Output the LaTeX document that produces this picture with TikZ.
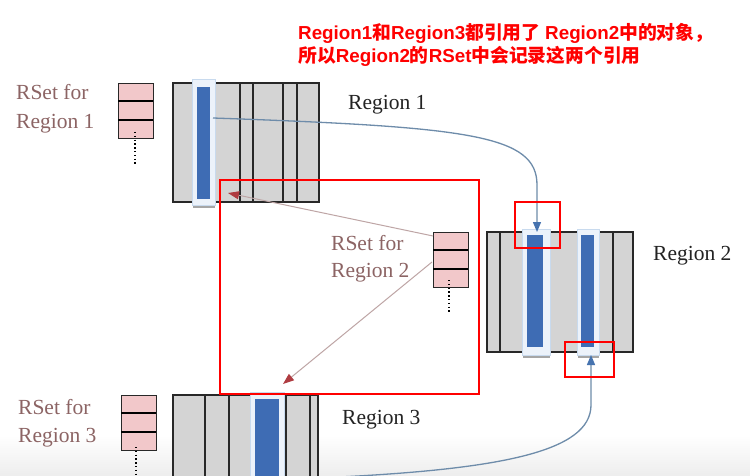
\documentclass[tikz,border=0pt]{standalone}
\usepackage{fontspec}
\setmainfont{Liberation Serif}
\newfontfamily\cjkfont{Noto Sans CJK SC}
\newfontfamily\lsansfont{Liberation Sans}
\usetikzlibrary{arrows.meta}
\definecolor{blockgrey}{RGB}{212,212,212}
\definecolor{edgecol}{RGB}{40,40,40}
\definecolor{barblue}{RGB}{62,108,180}
\definecolor{hlfill}{RGB}{236,242,250}
\definecolor{hlborder}{RGB}{200,218,238}
\definecolor{rsetpink}{RGB}{242,200,202}
\definecolor{rsettext}{RGB}{140,100,100}
\definecolor{regtext}{RGB}{35,35,35}
\definecolor{curveblue}{RGB}{110,140,170}
\definecolor{tipblue}{RGB}{70,115,175}
\definecolor{pinkline}{RGB}{190,165,165}
\definecolor{tipred}{RGB}{175,60,65}
\newcommand\ZHt[1]{{\cjkfont\bfseries #1}}
\newcommand\ENt[1]{{\lsansfont\bfseries #1}}
\begin{document}
\begin{tikzpicture}[x=1pt,y=-1pt,
  block/.style={draw=edgecol,fill=blockgrey,line width=1.4pt},
  colline/.style={draw=edgecol,line width=1.4pt},
  hlbox/.style={fill=hlfill,draw=hlborder,line width=1pt},
  hlunder/.style={draw=gray!70,line width=1.5pt},
  bar/.style={fill=barblue,draw=none,inner sep=0pt,anchor=north west},
  rsetbox/.style={fill=rsetpink,draw=edgecol,line width=1pt,inner sep=0pt,anchor=north west,minimum width=35pt,minimum height=55pt},
  rsetline/.style={draw=black,line width=1.6pt},
  dotline/.style={draw=black,line width=1.6pt,dash pattern=on 1.4pt off 2.4pt},
  rlabel/.style={text=rsettext,anchor=base west,inner sep=0pt,font=\fontsize{21.5}{21.5}\selectfont},
  reglabel/.style={text=regtext,anchor=base west,inner sep=0pt,font=\fontsize{21.5}{21.5}\selectfont},
  redbox/.style={draw=red,line width=2.5pt},
  curvearrow/.style={draw=curveblue,line width=1.3pt,-{Triangle[length=10pt,width=8pt,color=tipblue]}},
  rsarrow/.style={draw=pinkline,line width=1pt,-{Triangle[length=11pt,width=8pt,color=tipred]}}
]
\useasboundingbox (0,0) rectangle (750,476);
\clip (0,0) rectangle (750,476);
\fill[white] (0,0) rectangle (750,476);
\shade[top color=white,bottom color=gray!14] (0,435) rectangle (750,476);

% ---------- Region 1 ----------
\draw[block] (173,83) rectangle (319,202);
\foreach \xx in {240,253,283,297} \draw[colline] (\xx,83) -- (\xx,202);
\draw[hlbox] (192,80) rectangle (215,205);
\draw[hlunder] (193,207) -- (215,207);
\node[bar,minimum width=13pt,minimum height=112pt] (b1) at (197,87) {};
\node[reglabel] (l1) at (348,110) {Region 1};

% ---------- Region 2 ----------
\draw[block] (487,232) rectangle (633,352);
\foreach \xx in {500,613} \draw[colline] (\xx,232) -- (\xx,352);
\draw[hlbox] (522,229) rectangle (550,355);
\draw[hlbox] (577,229) rectangle (599,355);
\draw[hlunder] (523,357) -- (550,357);
\draw[hlunder] (578,357) -- (599,357);
\node[bar,minimum width=16pt,minimum height=112pt] (b2a) at (527,235) {};
\node[bar,minimum width=13pt,minimum height=112pt] (b2b) at (581,235) {};
\node[reglabel] (l2) at (653,260) {Region 2};

% ---------- Region 3 ----------
\draw[block] (173,395) rectangle (318,500);
\foreach \xx in {205,229,286,310} \draw[colline] (\xx,395) -- (\xx,500);
\draw[hlbox] (250,392) rectangle (284,500);
\node[bar,minimum width=24pt,minimum height=100pt] (b3) at (255,399) {};
\node[reglabel] (l3) at (342,424) {Region 3};

% ---------- RSets ----------
\node[rsetbox] (rs1) at (118,83) {};
\draw[rsetline] (118,101) -- (153,101);
\draw[rsetline] (118,120) -- (153,120);
\draw[dotline] (135,132) -- (135,164);
\node[rlabel] (t1a) at (16,100) {RSet for};
\node[rlabel] (t1b) at (16,129) {Region 1};

\node[rsetbox] (rs2) at (433,232) {};
\draw[rsetline] (433,250) -- (468,250);
\draw[rsetline] (433,269) -- (468,269);
\draw[dotline] (449,280) -- (449,313);
\node[rlabel] (t2a) at (331,250) {RSet for};
\node[rlabel] (t2b) at (331,277) {Region 2};

\node[rsetbox] (rs3) at (121,395) {};
\draw[rsetline] (121,413) -- (156,413);
\draw[rsetline] (121,432) -- (156,432);
\draw[dotline] (136,447) -- (136,480);
\node[rlabel] (t3a) at (18,414) {RSet for};
\node[rlabel] (t3b) at (18,442) {Region 3};

% ---------- references ----------
\coordinate (c1s) at (213,118);
\coordinate (c1e) at (537,232);
\draw[curvearrow] (c1s) .. controls (470,127) and (537,135) .. (537,185) -- (c1e);
\coordinate (c3s) at (318,478);
\coordinate (c3e) at (591,355);
\draw[curvearrow] (c3s) .. controls (500,470) and (591,452) .. (591,405) -- (c3e);

\coordinate (a1e) at (228,193);
\coordinate (a2e) at (283,384);
\draw[rsarrow] (433,236) -- (a1e);
\draw[rsarrow] (432,262) -- (a2e);

% ---------- red highlight boxes ----------
\draw[redbox] (220,180) rectangle (479,394);
\draw[redbox] (515,202) rectangle (560,248);
\draw[redbox] (565,342) rectangle (614,377);

% ---------- annotation ----------
\node[anchor=north west,align=left,text=red,inner sep=0pt,font=\fontsize{18.8}{23}\selectfont] (note) at (298,23)
 {\ENt{Region1}\ZHt{和}\ENt{Region3}\ZHt{都引用了} \ENt{Region2}\ZHt{中的对象，}\\
  \ZHt{所以}\ENt{Region2}\ZHt{的}\ENt{RSet}\ZHt{中会记录这两个引用}};
\end{tikzpicture}
\end{document}
